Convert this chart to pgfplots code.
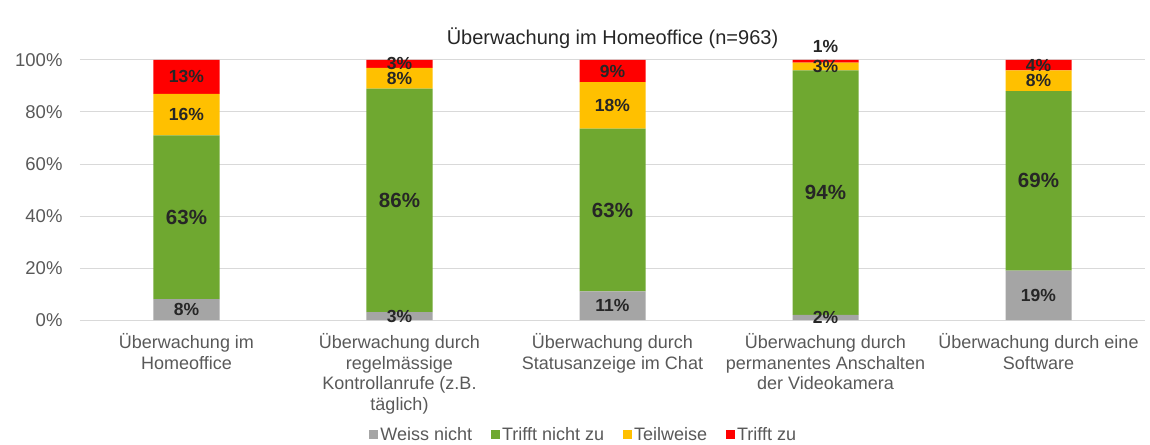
\documentclass[border=0pt]{standalone}
\usepackage{pgfplots}
\pgfplotsset{compat=1.18}
\usepackage{fontspec}
\setmainfont{Liberation Sans}
\definecolor{cgray}{HTML}{A5A5A5}
\definecolor{cgreen}{HTML}{6FA830}
\definecolor{cyellow}{HTML}{FFC000}
\definecolor{cred}{HTML}{FF0000}
\definecolor{ctxt}{HTML}{595959}
\definecolor{clab}{HTML}{262626}
\definecolor{cgrid}{HTML}{D9D9D9}
\begin{document}
\begin{tikzpicture}[x=1pt,y=1pt]
\useasboundingbox (-80,-124) rectangle (1070,320);
\begin{axis}[
  at={(0,0)}, anchor=south west,
  scale only axis, width=1065pt, height=260pt,
  ybar stacked, bar width=66pt,
  xmin=-0.5, xmax=4.5, ymin=0, ymax=100,
  xtick={0,1,2,3,4},
  xticklabels={{Überwachung im\\Homeoffice},{Überwachung durch\\regelmässige\\Kontrollanrufe (z.B.\\täglich)},{Überwachung durch\\Statusanzeige im Chat},{Überwachung durch\\permanentes Anschalten\\der Videokamera},{Überwachung durch eine\\Software}},
  xticklabel style={align=center, font=\fontsize{18}{20.5}\selectfont, text=ctxt, yshift=-10pt},
  ytick={0,20,40,60,80,100},
  yticklabel={\pgfmathprintnumber{\tick}\%},
  yticklabel style={font=\fontsize{18.5}{20}\selectfont, text=ctxt, xshift=-14pt},
  /pgf/number format/assume math mode=true,
  major tick length=0pt,
  axis line style={draw=none},
  ymajorgrids, grid style={cgrid, line width=1pt},
  title={Überwachung im Homeoffice (n=963)},
  title style={font=\fontsize{20}{22}\selectfont, text=clab, yshift=2pt},
  legend columns=4,
  legend style={at={(0.473,-0.442)}, anchor=center, draw=none, font=\fontsize{18}{20}\selectfont, text=ctxt,
    /tikz/every even column/.append style={column sep=17pt}},
  legend image code/.code={\fill[#1] (0pt,-4.5pt) rectangle (9pt,4.5pt);},
  nodes near coords={\pgfmathprintnumber[fixed,precision=0]{\pgfplotspointmeta}\%},
  point meta=explicit,
  visualization depends on=\thisrow{off}\as\off,
  every node near coord/.append style={anchor=center, text=clab, font=\fontsize{17.5}{18}\selectfont\bfseries,
    yshift=\off pt},
]
\addplot+[fill=cgray, draw=none] table[x=x, y=y, meta=m] {
x y m off
0 8 8 0
1 3 3 0
2 11 11 0
3 2 2 0
4 19 19 0
};
\addplot+[fill=cgreen, draw=none, every node near coord/.append style={font=\fontsize{20.5}{22}\selectfont\bfseries}] table[x=x, y=y, meta=m] {
x y m off
0 63 63 0
1 86 86 0
2 62.6 63 0
3 94 94 0
4 69 69 0
};
\addplot+[fill=cyellow, draw=none] table[x=x, y=y, meta=m] {
x y m off
0 16 16 0
1 8 8 0
2 17.9 18 0
3 3 3 0
4 8 8 0
};
\addplot+[fill=cred, draw=none] table[x=x, y=y, meta=m] {
x y m off
0 13 13 0
1 3 3 0
2 8.5 9 0
3 1 1 15
4 4 4 0
};
\legend{Weiss nicht, Trifft nicht zu, Teilweise, Trifft zu}
\end{axis}
\end{tikzpicture}
\end{document}
